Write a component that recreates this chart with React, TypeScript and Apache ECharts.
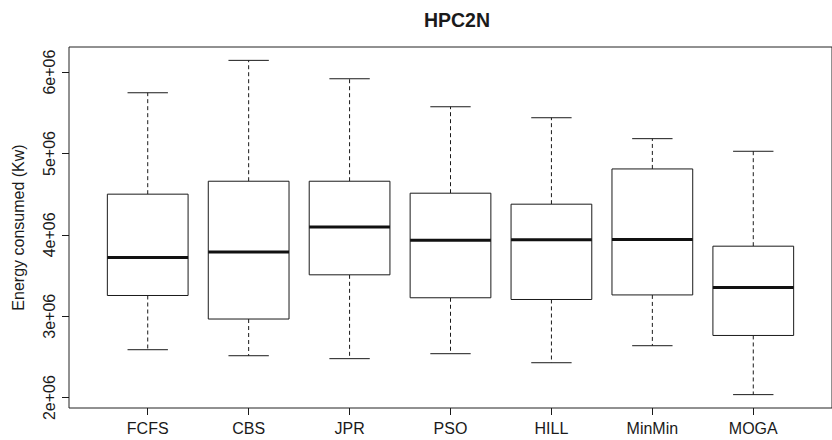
import React, { useEffect, useRef } from "react";
import * as echarts from "echarts";

const categories = ["FCFS", "CBS", "JPR", "PSO", "HILL", "MinMin", "MOGA"];
const whiskerLow = [2589000, 2515000, 2479000, 2540000, 2429000, 2638000, 2037000];
const quartile1 = [3255000, 2966000, 3509000, 3227000, 3206000, 3262000, 2764000];
const medians = [3722000, 3788000, 4098000, 3935000, 3939000, 3942000, 3354000];
const quartile3 = [4500000, 4659000, 4659000, 4512000, 4377000, 4810000, 3861000];
const whiskerHigh = [5746000, 6144000, 5918000, 5574000, 5439000, 5182000, 5027000];
const yTicks = [2000000, 3000000, 4000000, 5000000, 6000000];

const FONT = "'Liberation Sans', Arial, Helvetica, sans-serif";
const INK = "#1a1a1a";

export default function App() {
  const ref = useRef<HTMLDivElement>(null);
  useEffect(() => {
    if (!ref.current) return;
    const chart = echarts.init(ref.current, undefined, { renderer: "svg" });
    const n = categories.length;
    const lo = Math.min(...whiskerLow);
    const hi = Math.max(...whiskerHigh);
    const pad = (hi - lo) * 0.04;
    const xPad = n * 0.04;
    const data = categories.map((_, i) => [
      i + 1,
      whiskerLow[i],
      quartile1[i],
      medians[i],
      quartile3[i],
      whiskerHigh[i],
    ]);
    const xPositions = categories.map((_, i) => i + 1);

    chart.setOption({
      animation: false,
      backgroundColor: "#ffffff",
      title: {
        text: "HPC2N",
        left: 452,
        top: 5,
        textAlign: "center",
        textStyle: { fontFamily: FONT, fontSize: 19.5, fontWeight: "bold", color: INK },
      },
      grid: {
        left: 69,
        top: 47,
        right: -4,
        bottom: 32,
        show: true,
        borderColor: "#222",
        borderWidth: 1,
        backgroundColor: "transparent",
      },
      xAxis: {
        type: "value",
        min: 0.5 - xPad,
        max: n + 0.5 + xPad,
        axisLine: { show: false },
        splitLine: { show: false },
        axisTick: {
          show: true,
          length: 7,
          customValues: xPositions,
          lineStyle: { color: INK, width: 1 },
        },
        axisLabel: {
          customValues: xPositions,
          margin: 12,
          fontFamily: FONT,
          fontSize: 16,
          color: INK,
          formatter: (v: number) => categories[Math.round(v) - 1] ?? "",
        },
      },
      yAxis: {
        type: "value",
        min: lo - pad,
        max: hi + pad,
        axisLine: { show: false },
        splitLine: { show: false },
        name: "Energy consumed (Kw)",
        nameLocation: "middle",
        nameGap: 43,
        nameTextStyle: { fontFamily: FONT, fontSize: 16, color: INK },
        axisTick: {
          show: true,
          length: 7,
          customValues: yTicks,
          lineStyle: { color: INK, width: 1 },
        },
        axisLabel: {
          customValues: yTicks,
          rotate: 90,
          margin: 12,
          fontFamily: FONT,
          fontSize: 16,
          color: INK,
          formatter: (v: number) => `${Math.round(v / 1e6)}e+06`,
        },
      },
      series: [
        {
          type: "custom",
          clip: false,
          data,
          renderItem: (params: any, api: any) => {
            const x = api.value(0);
            const pMin = api.coord([x, api.value(1)]);
            const pQ1 = api.coord([x, api.value(2)]);
            const pMed = api.coord([x, api.value(3)]);
            const pQ3 = api.coord([x, api.value(4)]);
            const pMax = api.coord([x, api.value(5)]);
            const boxW = api.size([0.8, 0])[0];
            const capW = api.size([0.4, 0])[0];
            const cx = pMed[0];
            const dash = { stroke: INK, lineWidth: 1, lineDash: [4, 3] };
            const solid = { stroke: INK, lineWidth: 1 };
            return {
              type: "group",
              children: [
                { type: "line", shape: { x1: cx, y1: pQ3[1], x2: cx, y2: pMax[1] }, style: dash },
                { type: "line", shape: { x1: cx, y1: pQ1[1], x2: cx, y2: pMin[1] }, style: dash },
                { type: "line", shape: { x1: cx - capW / 2, y1: pMax[1], x2: cx + capW / 2, y2: pMax[1] }, style: solid },
                { type: "line", shape: { x1: cx - capW / 2, y1: pMin[1], x2: cx + capW / 2, y2: pMin[1] }, style: solid },
                {
                  type: "rect",
                  shape: { x: cx - boxW / 2, y: pQ3[1], width: boxW, height: pQ1[1] - pQ3[1] },
                  style: { fill: "#ffffff", stroke: INK, lineWidth: 1 },
                },
                {
                  type: "line",
                  shape: { x1: cx - boxW / 2, y1: pMed[1], x2: cx + boxW / 2, y2: pMed[1] },
                  style: { stroke: "#111", lineWidth: 3 },
                },
              ],
            };
          },
        },
      ],
    });
    return () => chart.dispose();
  }, []);
  return (
    <div
      ref={ref}
      style={{ position: "absolute", left: 0, top: 0, width: 832, height: 440, background: "#fff" }}
    />
  );
}
